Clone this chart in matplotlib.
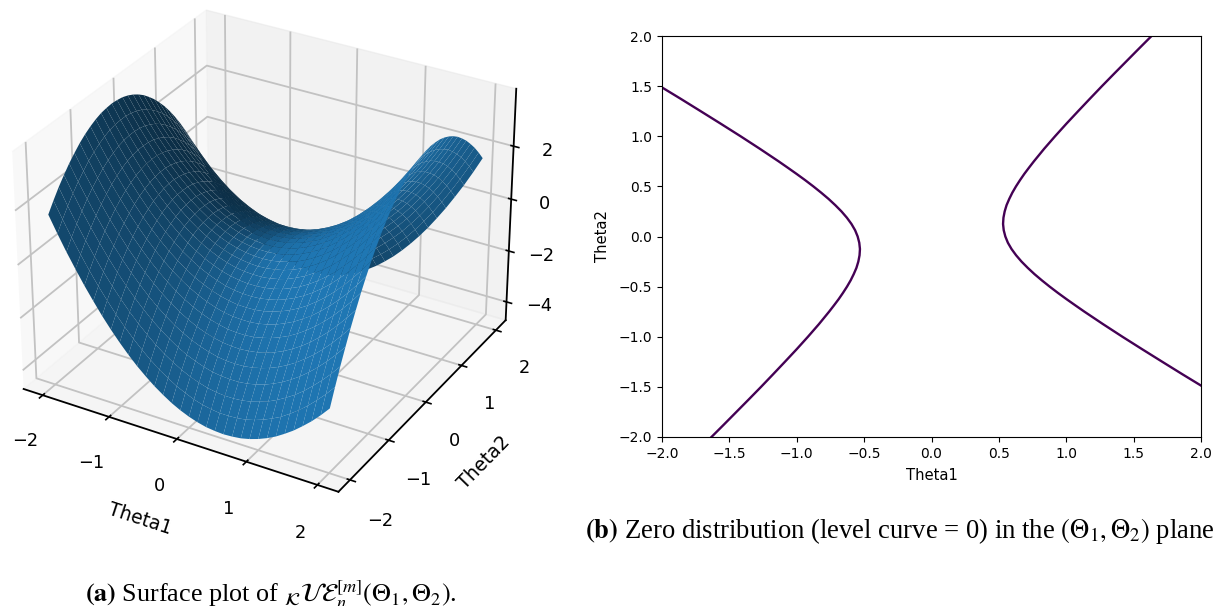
import matplotlib
matplotlib.use("Agg")
import matplotlib.pyplot as plt
import numpy as np

W, H = 1213, 606

# Grid positions of the surface table
theta1 = [-2.0, -1.875, -1.75, -1.625, -1.5, -1.375, -1.25, -1.125, -1.0, -0.875, -0.75, -0.625, -0.5, -0.375, -0.25, -0.125, 0.0,
          0.125, 0.25, 0.375, 0.5, 0.625, 0.75, 0.875, 1.0, 1.125, 1.25, 1.375, 1.5, 1.625, 1.75, 1.875, 2.0]
theta2 = [-2.0, -1.875, -1.75, -1.625, -1.5, -1.375, -1.25, -1.125, -1.0, -0.875, -0.75, -0.625, -0.5, -0.375, -0.25, -0.125, 0.0,
          0.125, 0.25, 0.375, 0.5, 0.625, 0.75, 0.875, 1.0, 1.125, 1.25, 1.375, 1.5, 1.625, 1.75, 1.875, 2.0]

# Surface heights, one row per theta2
surface_z = [
    [1.70,1.09,.51,-.03,-.55,-1.03,-1.49,-1.91,-2.30,-2.66,-2.99,-3.28,-3.55,-3.78,-3.99,-4.16,-4.30,-4.41,-4.49,-4.53,-4.55,-4.53,-4.49,-4.41,-4.30,-4.16,-3.99,-3.78,-3.55,-3.28,-2.99,-2.66,-2.30],
    [2.06,1.46,.89,.35,-.16,-.64,-1.08,-1.50,-1.88,-2.23,-2.55,-2.84,-3.10,-3.32,-3.52,-3.68,-3.82,-3.92,-3.99,-4.03,-4.03,-4.01,-3.96,-3.87,-3.75,-3.60,-3.43,-3.21,-2.97,-2.70,-2.39,-2.06,-1.69],
    [2.39,1.79,1.23,.70,.20,-.27,-.71,-1.11,-1.49,-1.83,-2.14,-2.43,-2.68,-2.89,-3.08,-3.24,-3.36,-3.46,-3.52,-3.55,-3.55,-3.52,-3.46,-3.36,-3.24,-3.08,-2.89,-2.68,-2.43,-2.14,-1.83,-1.49,-1.11],
    [2.68,2.10,1.54,1.02,.53,.07,-.36,-.76,-1.13,-1.46,-1.77,-2.04,-2.28,-2.50,-2.68,-2.82,-2.94,-3.03,-3.08,-3.10,-3.10,-3.06,-2.99,-2.89,-2.75,-2.59,-2.39,-2.17,-1.91,-1.62,-1.30,-.95,-.57],
    [2.95,2.37,1.83,1.31,.83,.37,-.05,-.44,-.80,-1.13,-1.43,-1.69,-1.93,-2.13,-2.30,-2.44,-2.55,-2.63,-2.68,-2.69,-2.68,-2.63,-2.55,-2.44,-2.30,-2.13,-1.93,-1.69,-1.43,-1.13,-.80,-.44,-.05],
    [3.18,2.61,2.08,1.57,1.09,.65,.23,-.15,-.50,-.82,-1.11,-1.37,-1.60,-1.79,-1.96,-2.09,-2.19,-2.26,-2.30,-2.31,-2.28,-2.23,-2.14,-2.03,-1.88,-1.70,-1.49,-1.25,-.97,-.67,-.33,.04,.43],
    [3.39,2.83,2.29,1.79,1.33,.89,.48,.11,-.24,-.55,-.83,-1.08,-1.30,-1.49,-1.64,-1.77,-1.86,-1.93,-1.96,-1.96,-1.93,-1.86,-1.77,-1.64,-1.49,-1.30,-1.08,-.83,-.55,-.24,.11,.48,.89],
    [3.56,3.00,2.48,1.99,1.53,1.10,.70,.33,0.00,-.31,-.58,-.82,-1.03,-1.21,-1.36,-1.48,-1.57,-1.62,-1.64,-1.64,-1.60,-1.53,-1.43,-1.29,-1.13,-.93,-.71,-.45,-.16,.16,.51,.90,1.31],
    [3.70,3.15,2.64,2.15,1.70,1.28,.89,.53,.20,-.10,-.36,-.60,-.80,-.97,-1.11,-1.22,-1.30,-1.35,-1.36,-1.35,-1.30,-1.22,-1.11,-.97,-.80,-.60,-.36,-.10,.20,.53,.89,1.28,1.70],
    [3.81,3.27,2.76,2.29,1.84,1.43,1.04,.69,.37,.08,-.18,-.40,-.60,-.76,-.89,-1.00,-1.07,-1.10,-1.11,-1.09,-1.03,-.95,-.83,-.68,-.50,-.29,-.05,.22,.53,.86,1.23,1.63,2.06],
    [3.89,3.36,2.86,2.39,1.95,1.54,1.17,.83,.51,.23,-.02,-.24,-.43,-.58,-.71,-.80,-.86,-.89,-.89,-.86,-.80,-.71,-.58,-.43,-.24,-.02,.23,.51,.83,1.17,1.54,1.95,2.39],
    [3.93,3.41,2.92,2.46,2.03,1.63,1.26,.93,.62,.35,.11,-.10,-.28,-.43,-.55,-.64,-.69,-.71,-.71,-.67,-.60,-.50,-.36,-.20,0.00,.22,.48,.77,1.09,1.44,1.83,2.24,2.68],
    [3.95,3.43,2.95,2.50,2.08,1.68,1.33,1.00,.70,.43,.20,0.00,-.18,-.32,-.43,-.50,-.55,-.57,-.55,-.50,-.43,-.32,-.18,0.00,.20,.43,.70,1.00,1.33,1.68,2.08,2.50,2.95],
    [3.93,3.43,2.95,2.50,2.09,1.71,1.36,1.04,.75,.49,.26,.07,-.10,-.23,-.33,-.40,-.44,-.45,-.43,-.37,-.28,-.17,-.02,.16,.37,.61,.89,1.19,1.53,1.90,2.29,2.72,3.18],
    [3.89,3.39,2.92,2.48,2.08,1.70,1.36,1.04,.76,.51,.29,.11,-.05,-.18,-.27,-.33,-.36,-.36,-.33,-.27,-.18,-.05,.11,.29,.51,.76,1.04,1.36,1.70,2.08,2.48,2.92,3.39],
    [3.81,3.32,2.86,2.43,2.03,1.66,1.32,1.02,.75,.50,.29,.11,-.03,-.15,-.24,-.29,-.32,-.31,-.27,-.20,-.10,.04,.20,.40,.62,.88,1.17,1.49,1.84,2.22,2.64,3.08,3.56],
    [3.70,3.22,2.76,2.34,1.95,1.59,1.26,.97,.70,.47,.26,.09,-.05,-.16,-.24,-.28,-.30,-.28,-.24,-.16,-.05,.09,.26,.47,.70,.97,1.26,1.59,1.95,2.34,2.76,3.22,3.70],
    [3.56,3.08,2.64,2.22,1.84,1.49,1.17,.88,.62,.40,.20,.04,-.10,-.20,-.27,-.31,-.32,-.29,-.24,-.15,-.03,.11,.29,.50,.75,1.02,1.32,1.66,2.03,2.43,2.86,3.32,3.81],
    [3.39,2.92,2.48,2.08,1.70,1.36,1.04,.76,.51,.29,.11,-.05,-.18,-.27,-.33,-.36,-.36,-.33,-.27,-.18,-.05,.11,.29,.51,.76,1.04,1.36,1.70,2.08,2.48,2.92,3.39,3.89],
    [3.18,2.72,2.29,1.90,1.53,1.19,.89,.61,.37,.16,-.02,-.17,-.28,-.37,-.43,-.45,-.44,-.40,-.33,-.23,-.10,.07,.26,.49,.75,1.04,1.36,1.71,2.09,2.50,2.95,3.43,3.93],
    [2.95,2.50,2.08,1.68,1.33,1.00,.70,.43,.20,0.00,-.18,-.32,-.43,-.50,-.55,-.57,-.55,-.50,-.43,-.32,-.18,0.00,.20,.43,.70,1.00,1.33,1.68,2.08,2.50,2.95,3.43,3.95],
    [2.68,2.24,1.83,1.44,1.09,.77,.48,.22,0.00,-.20,-.36,-.50,-.60,-.67,-.71,-.71,-.69,-.64,-.55,-.43,-.28,-.10,.11,.35,.62,.93,1.26,1.63,2.03,2.46,2.92,3.41,3.93],
    [2.39,1.95,1.54,1.17,.83,.51,.23,-.02,-.24,-.43,-.58,-.71,-.80,-.86,-.89,-.89,-.86,-.80,-.71,-.58,-.43,-.24,-.02,.23,.51,.83,1.17,1.54,1.95,2.39,2.86,3.36,3.89],
    [2.06,1.63,1.23,.86,.53,.22,-.05,-.29,-.50,-.68,-.83,-.95,-1.03,-1.09,-1.11,-1.10,-1.07,-1.00,-.89,-.76,-.60,-.40,-.18,.08,.37,.69,1.04,1.43,1.84,2.29,2.76,3.27,3.81],
    [1.70,1.28,.89,.53,.20,-.10,-.36,-.60,-.80,-.97,-1.11,-1.22,-1.30,-1.35,-1.36,-1.35,-1.30,-1.22,-1.11,-.97,-.80,-.60,-.36,-.10,.20,.53,.89,1.28,1.70,2.15,2.64,3.15,3.70],
    [1.31,.90,.51,.16,-.16,-.45,-.71,-.93,-1.13,-1.29,-1.43,-1.53,-1.60,-1.64,-1.64,-1.62,-1.57,-1.48,-1.36,-1.21,-1.03,-.82,-.58,-.31,0.00,.33,.70,1.10,1.53,1.99,2.48,3.00,3.56],
    [.89,.48,.11,-.24,-.55,-.83,-1.08,-1.30,-1.49,-1.64,-1.77,-1.86,-1.93,-1.96,-1.96,-1.93,-1.86,-1.77,-1.64,-1.49,-1.30,-1.08,-.83,-.55,-.24,.11,.48,.89,1.33,1.79,2.29,2.83,3.39],
    [.43,.04,-.33,-.67,-.97,-1.25,-1.49,-1.70,-1.88,-2.03,-2.14,-2.23,-2.28,-2.31,-2.30,-2.26,-2.19,-2.09,-1.96,-1.79,-1.60,-1.37,-1.11,-.82,-.50,-.15,.23,.65,1.09,1.57,2.08,2.61,3.18],
    [-.05,-.44,-.80,-1.13,-1.43,-1.69,-1.93,-2.13,-2.30,-2.44,-2.55,-2.63,-2.68,-2.69,-2.68,-2.63,-2.55,-2.44,-2.30,-2.13,-1.93,-1.69,-1.43,-1.13,-.80,-.44,-.05,.37,.83,1.31,1.83,2.37,2.95],
    [-.57,-.95,-1.30,-1.62,-1.91,-2.17,-2.39,-2.59,-2.75,-2.89,-2.99,-3.06,-3.10,-3.10,-3.08,-3.03,-2.94,-2.82,-2.68,-2.50,-2.28,-2.04,-1.77,-1.46,-1.13,-.76,-.36,.07,.53,1.02,1.54,2.10,2.68],
    [-1.11,-1.49,-1.83,-2.14,-2.43,-2.68,-2.89,-3.08,-3.24,-3.36,-3.46,-3.52,-3.55,-3.55,-3.52,-3.46,-3.36,-3.24,-3.08,-2.89,-2.68,-2.43,-2.14,-1.83,-1.49,-1.11,-.71,-.27,.20,.70,1.23,1.79,2.39],
    [-1.69,-2.06,-2.39,-2.70,-2.97,-3.21,-3.43,-3.60,-3.75,-3.87,-3.96,-4.01,-4.03,-4.03,-3.99,-3.92,-3.82,-3.68,-3.52,-3.32,-3.10,-2.84,-2.55,-2.23,-1.88,-1.50,-1.08,-.64,-.16,.35,.89,1.46,2.06],
    [-2.30,-2.66,-2.99,-3.28,-3.55,-3.78,-3.99,-4.16,-4.30,-4.41,-4.49,-4.53,-4.55,-4.53,-4.49,-4.41,-4.30,-4.16,-3.99,-3.78,-3.55,-3.28,-2.99,-2.66,-2.30,-1.91,-1.49,-1.03,-.55,-.03,.51,1.09,1.70],
]

# Zero level curve
right_x = [1.633,1.540,1.448,1.356,1.265,1.176,1.088,1.001,.917,.836,.760,.724,.689,.657,.627,.600,.577,.557,.543,.534,.531,.536,.548,.567,.594,.628,.668,.714,.764,.819,.877,.938,1.002,1.068,1.135,1.274,1.417,1.564,1.713,1.863,2.0]
right_y = [2,1.875,1.75,1.625,1.5,1.375,1.25,1.125,1,.875,.75,.6875,.625,.5625,.5,.4375,.375,.3125,.25,.1875,.125,.0625,0,-.0625,-.125,-.1875,-.25,-.3125,-.375,-.4375,-.5,-.5625,-.625,-.6875,-.75,-.875,-1,-1.125,-1.25,-1.375,-1.487]
left_x = [-1.633,-1.540,-1.448,-1.356,-1.265,-1.176,-1.088,-1.001,-.917,-.836,-.760,-.724,-.689,-.657,-.627,-.600,-.577,-.557,-.543,-.534,-.531,-.536,-.548,-.567,-.594,-.628,-.668,-.714,-.764,-.819,-.877,-.938,-1.002,-1.068,-1.135,-1.274,-1.417,-1.564,-1.713,-1.863,-2.0]
left_y = [-2,-1.875,-1.75,-1.625,-1.5,-1.375,-1.25,-1.125,-1,-.875,-.75,-.6875,-.625,-.5625,-.5,-.4375,-.375,-.3125,-.25,-.1875,-.125,-.0625,0,.0625,.125,.1875,.25,.3125,.375,.4375,.5,.5625,.625,.6875,.75,.875,1,1.125,1.25,1.375,1.487]

surface_xticks = [-2, -1, 0, 1, 2]
surface_yticks = [-2, -1, 0, 1, 2]
surface_zticks = [-4, -2, 0, 2]

plt.rcParams["mathtext.fontset"] = "stix"

fig = plt.figure(figsize=(W / 100, H / 100), dpi=100)

# (a) surface
ax3 = fig.add_axes([-0.0154, 0.0825, 0.462, 1.02], projection="3d")
X, Y = np.meshgrid(theta1, theta2)
ax3.plot_surface(X, Y, np.array(surface_z), rstride=1, cstride=1, linewidth=0, color="C0")
ax3.set_xticks(surface_xticks)
ax3.set_yticks(surface_yticks)
ax3.set_zticks(surface_zticks)
ax3.tick_params(axis="x", labelsize=12.8, pad=11.5)
ax3.tick_params(axis="y", labelsize=12.8, pad=11.5)
ax3.tick_params(axis="z", labelsize=12.8, pad=6.7)
ax3.set_xlabel("Theta1", fontsize=13.5, labelpad=20)
ax3.set_ylabel("Theta2", fontsize=13.5, labelpad=18)
for axis in (ax3.xaxis, ax3.yaxis, ax3.zaxis):
    axis._axinfo["grid"]["linewidth"] = 1.3
    axis._axinfo["grid"]["color"] = (0.76, 0.76, 0.76, 1)
    axis._axinfo["tick"]["linewidth"] = {True: 1.2, False: 1.0}
    axis.line.set_linewidth(1.3)

# (b) level curve
ax2 = fig.add_axes([662 / W, 1 - 437 / H, 539 / W, 401 / H])
ax2.plot(right_x, right_y, color="#440154", lw=1.7)
ax2.plot(left_x, left_y, color="#440154", lw=1.7)
ax2.set_xlim(-2, 2)
ax2.set_ylim(-2, 2)
ax2.set_xticks(np.arange(-2, 2.01, 0.5))
ax2.set_yticks(np.arange(-2, 2.01, 0.5))
ax2.tick_params(labelsize=10)
ax2.set_xlabel("Theta1", fontsize=10.6, labelpad=5.5)
ax2.set_ylabel("Theta2", fontsize=10.6, labelpad=6)

# Captions
fig.text(585 / W, 1 - 538 / H, r"$\mathbf{(b)}$ Zero distribution (level curve = 0) in the $(\Theta_1, \Theta_2)$ plane",
         family="Liberation Serif", fontsize=19.2, va="baseline", ha="left")
fig.text(85 / W, 1 - 602 / H, r"$\mathbf{(a)}$ Surface plot of ${}_{\mathcal{K}}\mathcal{U}\mathcal{E}_n^{[m]}(\Theta_1, \Theta_2)$.",
         family="Liberation Serif", fontsize=18.8, va="baseline", ha="left")

fig.savefig("out.png", dpi=100)
